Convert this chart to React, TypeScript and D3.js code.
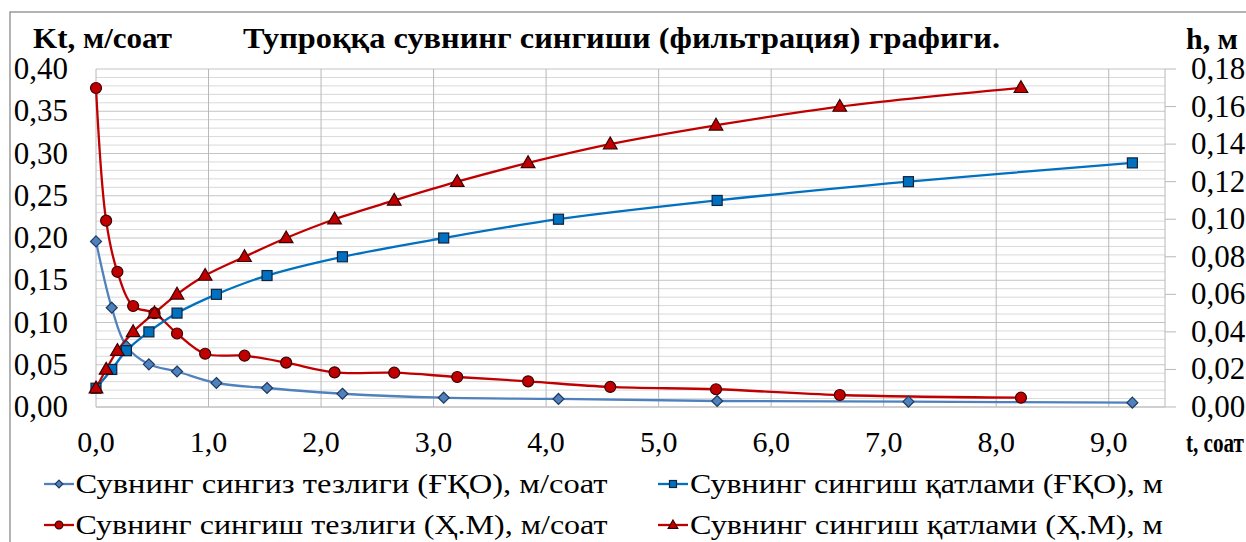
import React from 'react';
import * as d3 from 'd3';

// ---- data ----
const tFKO = [0, 0.14, 0.27, 0.47, 0.72, 1.07, 1.52, 2.19, 3.09, 4.11, 5.52, 7.22, 9.21];
const kFKO = [0.196, 0.1175, 0.072, 0.0505, 0.042, 0.0284, 0.0225, 0.0157, 0.011, 0.0095, 0.0071, 0.0063, 0.0051];
const hFKO = [0.01, 0.02, 0.03, 0.04, 0.05, 0.06, 0.07, 0.08, 0.09, 0.1, 0.11, 0.12, 0.13];

const tHM = [0, 0.09, 0.19, 0.33, 0.52, 0.72, 0.97, 1.32, 1.69, 2.12, 2.65, 3.21, 3.84, 4.57, 5.51, 6.61, 8.22];
const kHM = [0.3775, 0.2205, 0.16, 0.1195, 0.111, 0.087, 0.063, 0.0607, 0.0525, 0.041, 0.0406, 0.0355, 0.0304, 0.0237, 0.021, 0.0142, 0.011];
const hHM = [0.01, 0.02, 0.03, 0.04, 0.05, 0.06, 0.07, 0.08, 0.09, 0.1, 0.11, 0.12, 0.13, 0.14, 0.15, 0.16, 0.17];

const xTicks = [0, 1, 2, 3, 4, 5, 6, 7, 8, 9];
const yLeftTicks = [0, 0.05, 0.1, 0.15, 0.2, 0.25, 0.3, 0.35, 0.4];
const yRightTicks = [0, 0.02, 0.04, 0.06, 0.08, 0.1, 0.12, 0.14, 0.16, 0.18];

const seriesNames = [
  'Сувнинг сингиз тезлиги (ҒҚО), м/соат',
  'Сувнинг сингиш қатлами (ҒҚО), м',
  'Сувнинг сингиш тезлиги (Ҳ.М), м/соат',
  'Сувнинг сингиш қатлами (Ҳ.М), м',
];

const title = 'Тупроққа сувнинг сингиши (фильтрация) графиги.';
const leftTitle = 'Kt, м/соат';
const rightTitle = 'h, м';
const xTitle = 't, соат';

const C_DIAMOND = '#4F81BD';
const C_SQUARE = '#0070C0';
const C_RED = '#C00000';

const SERIF = 'Liberation Serif';

const fmt = (v: number, d: number) => v.toFixed(d).replace('.', ',');

type Shape = 'diamond' | 'square' | 'circle' | 'triangle';

function Marker({ shape, cx, cy, s, fill, stroke }: { shape: Shape; cx: number; cy: number; s: number; fill: string; stroke: string }) {
  const sw = 1.2;
  if (shape === 'diamond') {
    return <path d={`M${cx},${cy - s}L${cx + s},${cy}L${cx},${cy + s}L${cx - s},${cy}Z`} fill={fill} stroke={stroke} strokeWidth={sw} />;
  }
  if (shape === 'square') {
    return <rect x={cx - s} y={cy - s} width={2 * s} height={2 * s} fill={fill} stroke={stroke} strokeWidth={sw} />;
  }
  if (shape === 'circle') {
    return <circle cx={cx} cy={cy} r={s} fill={fill} stroke={stroke} strokeWidth={sw} />;
  }
  const h = s * 1.9;
  return <path d={`M${cx},${cy - h * 0.6}L${cx + s * 1.1},${cy + h * 0.4}L${cx - s * 1.1},${cy + h * 0.4}Z`} fill={fill} stroke={stroke} strokeWidth={sw} />;
}

export default function App() {
  const W = 1246;
  const H = 542;
  const x = d3.scaleLinear().domain([0, 9.5]).range([96, 1165]);
  const yL = d3.scaleLinear().domain([0, 0.4]).range([407, 69]);
  const yR = d3.scaleLinear().domain([0, 0.18]).range([407, 69]);
  const curve = d3.curveCatmullRom.alpha(0.5);

  const mk = (ts: number[], vs: number[], y: d3.ScaleLinear<number, number>) =>
    d3.line<number>().x((_, i) => x(ts[i])).y((_, i) => y(vs[i])).curve(curve)(vs) || '';

  const series = [
    { ts: tFKO, vs: kFKO, y: yL, color: C_DIAMOND, shape: 'diamond' as Shape, s: 5.5, stroke: '#1F3A60', name: seriesNames[0] },
    { ts: tHM, vs: kHM, y: yL, color: C_RED, shape: 'circle' as Shape, s: 5.5, stroke: '#3A0000', name: seriesNames[2] },
    { ts: tFKO, vs: hFKO, y: yR, color: C_SQUARE, shape: 'square' as Shape, s: 5, stroke: '#10243C', name: seriesNames[1] },
    { ts: tHM, vs: hHM, y: yR, color: C_RED, shape: 'triangle' as Shape, s: 6.2, stroke: '#3A0000', name: seriesNames[3] },
  ];

  const minor = d3.range(0, 41).map((i) => i * 0.01);

  const legendItems = [
    { s: series[0], x: 44, y: 484, tx: 75.5, len: 532 },
    { s: series[2], x: 658, y: 484, tx: 690, len: 473 },
    { s: series[1], x: 44, y: 525, tx: 75.5, len: 532 },
    { s: series[3], x: 658, y: 525, tx: 690, len: 473 },
  ];

  return (
    <svg width={W} height={H} viewBox={`0 0 ${W} ${H}`} style={{ position: 'absolute', left: 0, top: 0, background: '#fff' }}>
      <rect x={0} y={0} width={W} height={H} fill="#fff" />
      {/* chart frame */}
      <rect x={10} y={12} width={W + 20} height={H + 20} fill="none" stroke="#8a8a8a" strokeWidth={1.3} />

      {/* horizontal gridlines */}
      {minor.map((v, i) => (
        <line key={'h' + i} x1={x(0)} x2={x(9.5)} y1={yL(v)} y2={yL(v)}
          stroke={i % 5 === 0 ? '#c4c4c4' : '#d9d9d9'} strokeWidth={1} />
      ))}
      {/* vertical gridlines */}
      {xTicks.map((t) => (
        <line key={'v' + t} x1={x(t)} x2={x(t)} y1={69} y2={407} stroke="#b8b8b8" strokeWidth={1} />
      ))}
      {/* right axis */}
      <line x1={x(9.5)} x2={x(9.5)} y1={69} y2={407} stroke="#b8b8b8" strokeWidth={1} />
      {yRightTicks.map((v, i) => (
        <line key={'rt' + i} x1={x(9.5)} x2={x(9.5) + 11} y1={yR(v)} y2={yR(v)} stroke="#b8b8b8" strokeWidth={1} />
      ))}
      <line x1={x(0)} x2={x(9.5)} y1={407} y2={407} stroke="#bdbdbd" strokeWidth={1} />

      {/* series lines */}
      {series.map((s, i) => (
        <path key={'l' + i} d={mk(s.ts, s.vs, s.y)} fill="none" stroke={s.color} strokeWidth={2.3} />
      ))}
      {/* markers */}
      {series.map((s, i) => (
        <g key={'m' + i}>
          {s.vs.map((v, j) => (
            <Marker key={j} shape={s.shape} cx={x(s.ts[j])} cy={s.y(v)} s={s.s} fill={s.color} stroke={s.stroke} />
          ))}
        </g>
      ))}

      {/* left tick labels */}
      {yLeftTicks.map((v, i) => (
        <text key={'yl' + i} fontFamily={SERIF} x={68} y={yL(v) + 10} textAnchor="end" fontSize={31} fill="#000">{fmt(v, 2)}</text>
      ))}
      {/* right tick labels */}
      {yRightTicks.map((v, i) => (
        <text key={'yr' + i} fontFamily={SERIF} x={1191} y={yR(v) + 10} textAnchor="start" fontSize={31} fill="#000">{fmt(v, 2)}</text>
      ))}
      {/* x tick labels */}
      {xTicks.map((t) => (
        <text key={'xl' + t} fontFamily={SERIF} x={x(t)} y={452} textAnchor="middle" fontSize={30} fill="#000">{fmt(t, 1)}</text>
      ))}

      {/* titles */}
      <text fontFamily={SERIF} x={243} y={48} fontWeight="bold" fontSize={30} textLength={757} lengthAdjust="spacingAndGlyphs">{title}</text>
      <text fontFamily={SERIF} x={33} y={48} fontWeight="bold" fontSize={30} textLength={139} lengthAdjust="spacingAndGlyphs">{leftTitle}</text>
      <text fontFamily={SERIF} x={1186} y={49} fontWeight="bold" fontSize={30} textLength={52} lengthAdjust="spacingAndGlyphs">{rightTitle}</text>
      <text fontFamily={SERIF} x={1186} y={452} fontWeight="bold" fontSize={28} textLength={58} lengthAdjust="spacingAndGlyphs">{xTitle}</text>

      {/* legend */}
      {legendItems.map((it, i) => (
        <g key={'lg' + i}>
          <line x1={it.x} x2={it.x + 30} y1={it.y} y2={it.y} stroke={it.s.color} strokeWidth={2.3} />
          <Marker shape={it.s.shape} cx={it.x + 15} cy={it.y} s={it.s.s * 0.7} fill={it.s.color} stroke={it.s.stroke} />
          <text fontFamily={SERIF} x={it.tx} y={it.y + 8.5} fontSize={27} textLength={it.len} lengthAdjust="spacingAndGlyphs">{it.s.name}</text>
        </g>
      ))}
    </svg>
  );
}
